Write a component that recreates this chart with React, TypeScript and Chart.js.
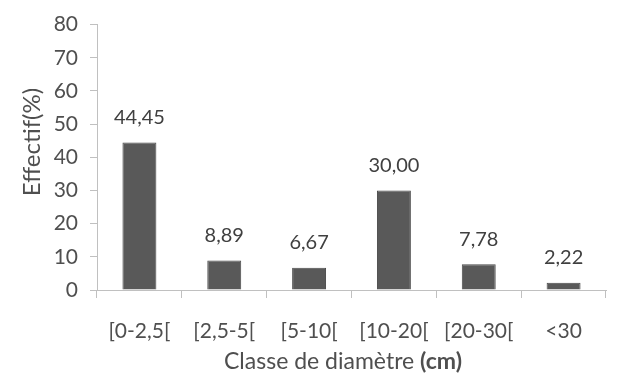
import React, { useEffect, useRef } from "react";
import { Chart, registerables } from "chart.js";

Chart.register(...registerables);

const categories = ["[0-2,5[", "[2,5-5[", "[5-10[", "[10-20[", "[20-30[", "<30"];
const values = [44.45, 8.89, 6.67, 30.0, 7.78, 2.22];
const yTitle = "Effectif(%)";
const xTitleMain = "Classe de diamètre ";
const xTitleBold = "(cm)";

const FONT = "Lato, 'Open Sans', sans-serif";
const TEXT = "#4f4f4f";
const AXIS = "#c0c0c0";

const fmt = (v: number) => v.toFixed(2).replace(".", ",");

const labelsPlugin = {
  id: "customLabels",
  afterDatasetsDraw(chart: any) {
    const ctx = chart.ctx;
    const meta = chart.getDatasetMeta(0);
    ctx.save();
    ctx.fillStyle = "#404040";
    ctx.font = `20px ${FONT}`;
    ctx.textAlign = "center";
    ctx.textBaseline = "middle";
    meta.data.forEach((bar: any, i: number) => {
      ctx.fillText(fmt(values[i]), bar.x, bar.y - 25);
    });
    ctx.restore();
  },
  afterDraw(chart: any) {
    const ctx = chart.ctx;
    ctx.save();
    ctx.fillStyle = TEXT;
    ctx.textBaseline = "middle";
    // y title
    ctx.save();
    ctx.translate(32, 142);
    ctx.rotate(-Math.PI / 2);
    ctx.textAlign = "center";
    ctx.font = `24px ${FONT}`;
    ctx.fillText(yTitle, 0, 0);
    ctx.restore();
    // x title
    ctx.font = `23px ${FONT}`;
    const w1 = ctx.measureText(xTitleMain).width;
    ctx.font = `bold 23px ${FONT}`;
    const w2 = ctx.measureText(xTitleBold).width;
    const cx = 343;
    const start = cx - (w1 + w2) / 2;
    ctx.textAlign = "left";
    ctx.font = `23px ${FONT}`;
    ctx.fillText(xTitleMain, start, 362);
    ctx.font = `bold 23px ${FONT}`;
    ctx.fillText(xTitleBold, start + w1, 362);
    ctx.restore();
  },
};

export default function App() {
  const ref = useRef<HTMLCanvasElement>(null);
  useEffect(() => {
    if (!ref.current) return;
    const chart = new Chart(ref.current, {
      type: "bar",
      data: {
        labels: categories,
        datasets: [
          {
            data: values,
            backgroundColor: "#595959",
            borderColor: "#4a4a4a",
            borderWidth: 1,
            categoryPercentage: 1,
            barPercentage: 0.4,
          },
        ],
      },
      options: {
        responsive: false,
        animation: false,
        layout: { padding: { top: 19, right: 13, left: 0, bottom: 0 } },
        plugins: { legend: { display: false }, tooltip: { enabled: false } },
        scales: {
          x: {
            grid: {
              display: true,
              drawOnChartArea: false,
              drawTicks: true,
              tickLength: 8,
              color: AXIS,
              offset: true,
            },
            border: { color: AXIS, width: 1 },
            ticks: { color: TEXT, font: { family: FONT, size: 21 }, padding: 21 },
            afterFit: (s: any) => {
              s.height = 92;
            },
          },
          y: {
            min: 0,
            max: 80,
            ticks: {
              stepSize: 10,
              color: TEXT,
              font: { family: FONT, size: 21 },
              padding: 12,
            },
            grid: {
              display: true,
              drawOnChartArea: false,
              drawTicks: true,
              tickLength: 7,
              color: AXIS,
            },
            border: { color: AXIS, width: 1 },
            afterFit: (s: any) => {
              s.width = 97;
            },
          },
        },
      },
      plugins: [labelsPlugin],
    });
    return () => chart.destroy();
  }, []);
  return (
    <div style={{ position: "fixed", left: 0, top: 0, width: 619, height: 382, background: "#fff" }}>
      <canvas ref={ref} width={619} height={382} />
    </div>
  );
}
